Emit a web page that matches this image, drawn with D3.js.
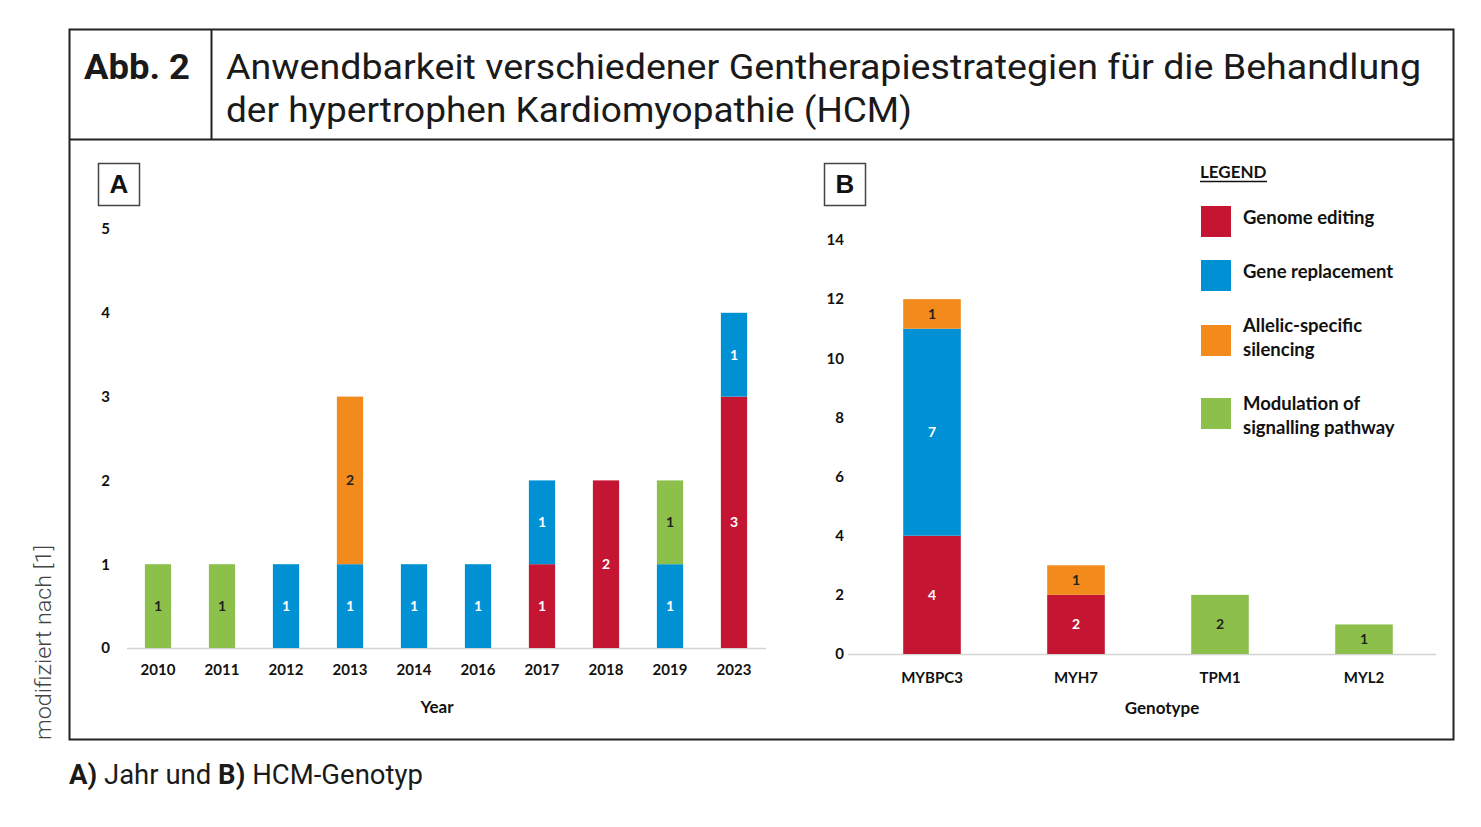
<!DOCTYPE html>
<html>
<head>
<meta charset="utf-8">
<style>
  body { margin: 0; background: #fff; }
  .tick text { font-family: Lato, "Open Sans", sans-serif; font-weight: bold; font-size: 15px; fill: #111; }
  .seg text { font-family: Lato, sans-serif; font-weight: bold; font-size: 14px; }
</style>
</head>
<body>
<svg id="fig" width="1481" height="827"></svg>
<script src="https://d3js.org/d3.v7.min.js"></script>
<script>
// strategies, stacked bottom to top
const strategies = ["Genome editing", "Gene replacement", "Allelic-specific silencing", "Modulation of signalling pathway"];
const legendLines = [["Genome editing"], ["Gene replacement"], ["Allelic-specific", "silencing"], ["Modulation of", "signalling pathway"]];
const colors = ["#c41533", "#0091d5", "#f28a1c", "#8dc04b"];
const labelColors = ["#fff", "#fff", "#222", "#222"];

// panel A: by year
const years = ["2010", "2011", "2012", "2013", "2014", "2016", "2017", "2018", "2019", "2023"];
const yearEditing     = [0, 0, 0, 0, 0, 0, 1, 2, 0, 3];
const yearReplacement = [0, 0, 1, 1, 1, 1, 1, 0, 1, 1];
const yearSilencing   = [0, 0, 0, 2, 0, 0, 0, 0, 0, 0];
const yearModulation  = [1, 1, 0, 0, 0, 0, 0, 0, 1, 0];
const yearTicks = [0, 1, 2, 3, 4, 5];

// panel B: by genotype
const genotypes = ["MYBPC3", "MYH7", "TPM1", "MYL2"];
const genoEditing     = [4, 2, 0, 0];
const genoReplacement = [7, 0, 0, 0];
const genoSilencing   = [1, 1, 0, 0];
const genoModulation  = [0, 0, 2, 1];
const genoTicks = [0, 2, 4, 6, 8, 10, 12, 14];

const svg = d3.select("#fig");

// frame and header
const frame = svg.append("g").attr("fill", "none").attr("stroke", "#222");
frame.append("rect").attr("x", 69.5).attr("y", 29.5).attr("width", 1384).attr("height", 710).attr("stroke-width", 2);
frame.append("line").attr("x1", 69).attr("x2", 1454).attr("y1", 139.5).attr("y2", 139.5).attr("stroke-width", 2);
frame.append("line").attr("x1", 211.5).attr("x2", 211.5).attr("y1", 29).attr("y2", 139).attr("stroke-width", 2);

svg.append("text").attr("x", 84).attr("y", 79).attr("textLength", 106).attr("lengthAdjust", "spacingAndGlyphs")
  .style("font-family", "Roboto, sans-serif").style("font-weight", "bold").style("font-size", "35px").attr("fill", "#1a1a1a")
  .text("Abb. 2");
const head = svg.append("g").style("font-family", "Roboto, sans-serif").style("font-size", "35px").attr("fill", "#1a1a1a");
head.append("text").attr("x", 226).attr("y", 79).attr("textLength", 1195).attr("lengthAdjust", "spacingAndGlyphs")
  .text("Anwendbarkeit verschiedener Gentherapiestrategien für die Behandlung");
head.append("text").attr("x", 226).attr("y", 122).attr("textLength", 686).attr("lengthAdjust", "spacingAndGlyphs")
  .text("der hypertrophen Kardiomyopathie (HCM)");

// side note and caption
svg.append("text").attr("transform", "translate(51,740) rotate(-90)")
  .attr("textLength", 195).attr("lengthAdjust", "spacingAndGlyphs")
  .style("font-family", "Roboto, sans-serif").style("font-weight", 300).style("font-size", "22px").attr("fill", "#444")
  .text("modifiziert nach [1]");
const cap = svg.append("text").attr("x", 69).attr("y", 784).attr("textLength", 354).attr("lengthAdjust", "spacingAndGlyphs")
  .style("font-family", "Roboto, sans-serif").style("font-size", "27px").attr("fill", "#1a1a1a");
cap.append("tspan").style("font-weight", "bold").text("A)");
cap.append("tspan").text(" Jahr und ");
cap.append("tspan").style("font-weight", "bold").text("B)");
cap.append("tspan").text(" HCM-Genotyp");

function panelBox(x, y, letter) {
  svg.append("rect").attr("x", x + 0.5).attr("y", y + 0.5).attr("width", 41).attr("height", 42)
    .attr("fill", "#fff").attr("stroke", "#444").attr("stroke-width", 1.5);
  svg.append("text").attr("x", x + 21).attr("y", y + 30).attr("text-anchor", "middle")
    .style("font-family", "Arial, 'Liberation Sans', sans-serif").style("font-weight", "bold").style("font-size", "26px")
    .attr("fill", "#111").text(letter);
}

function drawPanel(opt) {
  const rows = opt.cats.map((c, i) => {
    const r = { cat: c };
    opt.series.forEach((s, k) => { r[strategies[k]] = s[i]; });
    return r;
  });
  const stacked = d3.stack().keys(strategies)(rows);

  const x = d3.scaleBand().domain(opt.cats).range(opt.xRange).paddingInner(opt.pad).paddingOuter(opt.pad / 2);
  const y = d3.scaleLinear().domain([0, opt.yMax]).range(opt.yRange);

  const g = svg.append("g");

  // baseline
  g.append("line").attr("x1", opt.baseX[0]).attr("x2", opt.baseX[1])
    .attr("y1", y(0) + 0.5).attr("y2", y(0) + 0.5).attr("stroke", "#d4d4d4").attr("stroke-width", 1.5);

  // y axis labels only
  const ya = g.append("g").attr("transform", `translate(${opt.yLabelX},0)`)
    .call(d3.axisLeft(y).tickValues(opt.ticks).tickFormat(d3.format("d")).tickSize(0).tickPadding(0));
  ya.select(".domain").remove();

  // x axis labels
  const xa = g.append("g").attr("transform", `translate(0,${y(0)})`)
    .call(d3.axisBottom(x).tickSize(0).tickPadding(opt.xPad));
  xa.select(".domain").remove();

  stacked.forEach((layer, k) => {
    const sg = g.append("g").attr("class", "seg");
    layer.forEach(d => {
      const v = d[1] - d[0];
      if (!v) return;
      sg.append("rect")
        .attr("x", x(d.data.cat)).attr("width", x.bandwidth())
        .attr("y", y(d[1])).attr("height", y(d[0]) - y(d[1]))
        .attr("fill", colors[k]);
      sg.append("text")
        .attr("x", x(d.data.cat) + x.bandwidth() / 2)
        .attr("y", (y(d[0]) + y(d[1])) / 2 + 5)
        .attr("text-anchor", "middle").attr("fill", labelColors[k])
        .text(v);
    });
  });

  g.append("text").attr("x", opt.titleX).attr("y", opt.titleY).attr("text-anchor", "middle")
    .style("font-family", "Lato, sans-serif").style("font-weight", "bold").style("font-size", "17px").attr("fill", "#111")
    .text(opt.title);
}

panelBox(98, 163, "A");
drawPanel({
  cats: years, series: [yearEditing, yearReplacement, yearSilencing, yearModulation],
  xRange: [126, 766], pad: 0.59, yMax: 5, yRange: [648, 229], ticks: yearTicks,
  baseX: [127, 766], yLabelX: 110, xPad: 16, title: "Year", titleX: 437, titleY: 713
});

panelBox(824, 163, "B");
drawPanel({
  cats: genotypes, series: [genoEditing, genoReplacement, genoSilencing, genoModulation],
  xRange: [860, 1436], pad: 0.6, yMax: 14, yRange: [654, 240], ticks: genoTicks,
  baseX: [848, 1436], yLabelX: 844, xPad: 18, title: "Genotype", titleX: 1162, titleY: 714
});

// legend
const lg = svg.append("g").style("font-family", "Lato, sans-serif").style("font-weight", "bold").attr("fill", "#111");
lg.append("text").attr("x", 1200).attr("y", 178).style("font-size", "17px").text("LEGEND");
lg.append("line").attr("x1", 1200).attr("x2", 1267).attr("y1", 181.5).attr("y2", 181.5).attr("stroke", "#111").attr("stroke-width", 1.5);
const swatchY = [206, 260, 325, 398];
const textCenters = [[218], [272], [326, 350], [404, 428]];
legendLines.forEach((lines, k) => {
  lg.append("rect").attr("x", 1201).attr("y", swatchY[k]).attr("width", 30).attr("height", 31).attr("fill", colors[k]);
  lines.forEach((t, j) => {
    lg.append("text").attr("x", 1243).attr("y", textCenters[k][j] + 6)
      .style("font-size", "18.5px").text(t);
  });
});
</script>
</body>
</html>
